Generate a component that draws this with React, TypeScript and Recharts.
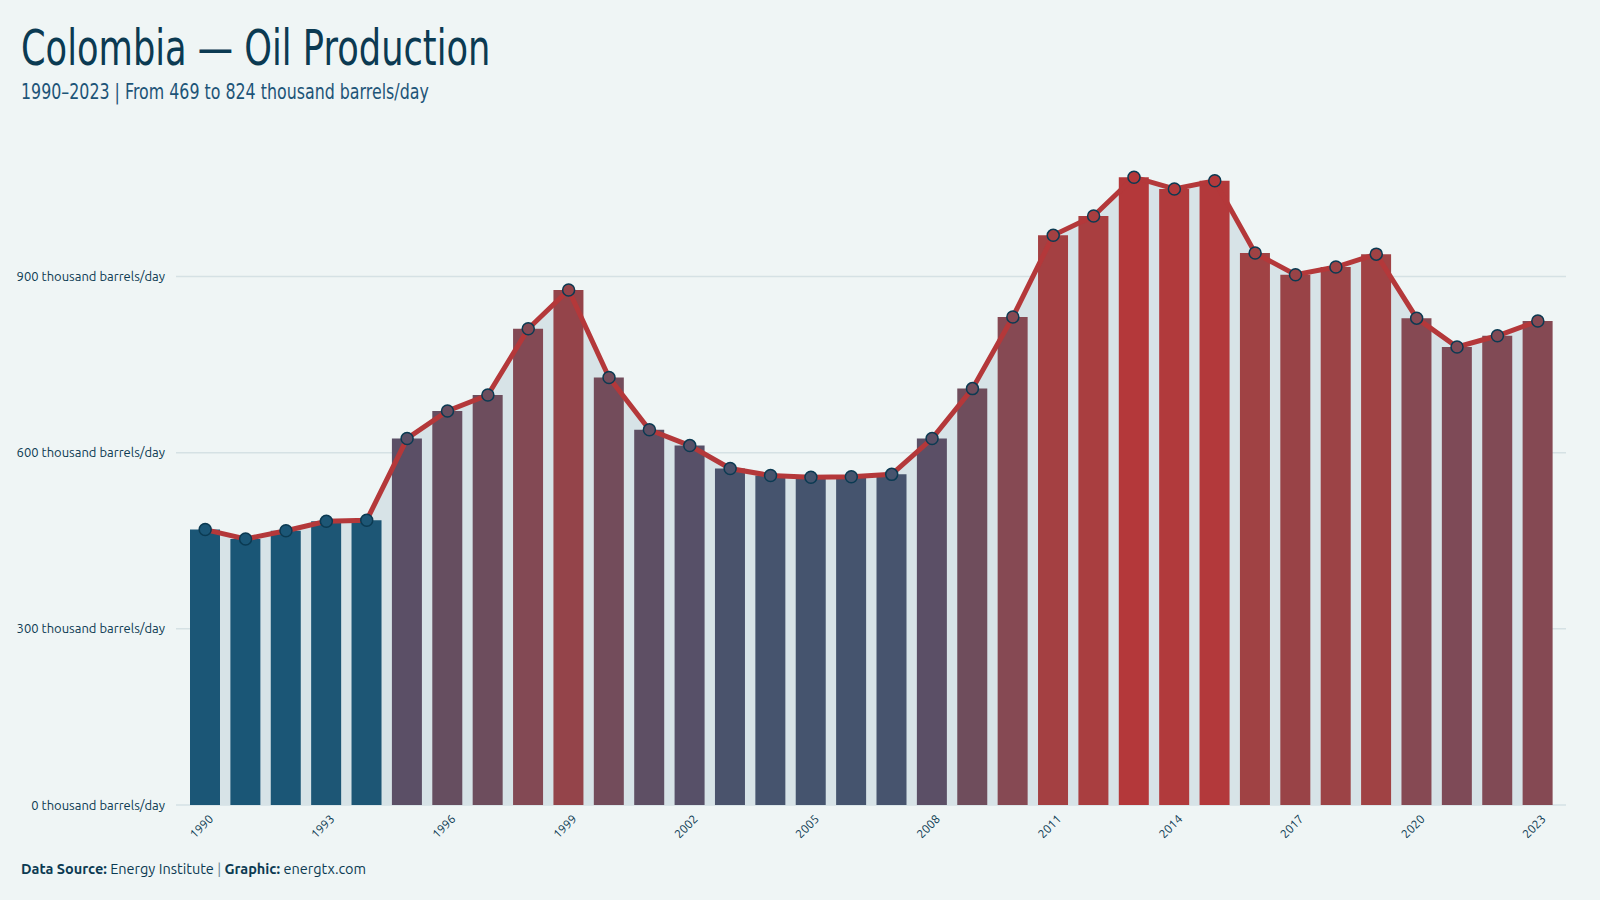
import React from 'react';
import {
  ComposedChart,
  Bar,
  Line,
  Area,
  Cell,
  XAxis,
  YAxis,
  CartesianGrid,
} from 'recharts';

// thousand barrels/day
const years = [
  '1990', '1991', '1992', '1993', '1994', '1995', '1996', '1997', '1998', '1999',
  '2000', '2001', '2002', '2003', '2004', '2005', '2006', '2007', '2008', '2009',
  '2010', '2011', '2012', '2013', '2014', '2015', '2016', '2017', '2018', '2019',
  '2020', '2021', '2022', '2023',
];
const production = [
  469, 453, 467, 483, 485, 624, 671, 698, 811, 877,
  728, 639, 612, 573, 561, 558, 559, 563, 624, 709,
  831, 970, 1003, 1069, 1049, 1063, 940, 903, 916, 938,
  829, 780, 799, 824,
];
const yTicks = [0, 300, 600, 900];

const data = years.map((year, i) => ({ year, value: production[i] }));

const NAVY = '#0b3a52';
const RED = '#b4383a';
const TICK_FONT = "Ubuntu, 'Noto Sans', 'Open Sans', sans-serif";
const TITLE_FONT = "'DejaVu Sans', sans-serif";

// colour stops (value -> colour), blue for low output, red for high
const colorStops: Array<[number, [number, number, number]]> = [
  [453, [26, 86, 118]],
  [486, [29, 86, 117]],
  [560, [70, 84, 110]],
  [625, [91, 79, 102]],
  [700, [109, 77, 93]],
  [790, [128, 74, 86]],
  [830, [134, 73, 83]],
  [880, [149, 68, 73]],
  [940, [160, 66, 68]],
  [1000, [168, 62, 64]],
  [1069, [180, 56, 58]],
];

const colorFor = (v: number) => {
  if (v <= colorStops[0][0]) return `rgb(${colorStops[0][1].join(',')})`;
  for (let i = 1; i < colorStops.length; i++) {
    const [v1, c1] = colorStops[i];
    const [v0, c0] = colorStops[i - 1];
    if (v <= v1) {
      const t = (v - v0) / (v1 - v0);
      const c = c0.map((x, k) => Math.round(x + (c1[k] - x) * t));
      return `rgb(${c.join(',')})`;
    }
  }
  return `rgb(${colorStops[colorStops.length - 1][1].join(',')})`;
};

const XTick = (props: any) => {
  const { x, y, payload } = props;
  return (
    <g transform={`translate(${x + 6},${y + 4})`}>
      <text
        transform="rotate(-45)"
        textAnchor="end"
        fontSize={12}
        fill={NAVY}
        fontFamily={TICK_FONT}
        dy={4}
      >
        {payload.value}
      </text>
    </g>
  );
};

const Dot = (props: any) => {
  const { cx, cy, payload } = props;
  if (cx == null || cy == null) return null;
  return (
    <circle
      key={`dot-${payload.year}`}
      cx={cx}
      cy={cy}
      r={6}
      fill={colorFor(payload.value)}
      stroke={NAVY}
      strokeWidth={1.5}
    />
  );
};

const App: React.FC = () => {
  return (
    <div
      style={{
        position: 'absolute',
        top: 0,
        left: 0,
        width: 1600,
        height: 900,
        background: '#eff5f5',
        overflow: 'hidden',
      }}
    >
      <div
        style={{
          position: 'absolute',
          left: 21,
          top: 18,
          fontFamily: TITLE_FONT,
          fontSize: 50,
          color: NAVY,
          whiteSpace: 'nowrap',
          lineHeight: 1.2,
          transform: 'scaleX(0.705)',
          transformOrigin: 'left top',
        }}
      >
        Colombia — Oil Production
      </div>
      <div
        style={{
          position: 'absolute',
          left: 21,
          top: 79,
          fontFamily: TITLE_FONT,
          fontSize: 22,
          color: '#1d5478',
          whiteSpace: 'nowrap',
          lineHeight: 1.2,
          transform: 'scaleX(0.72)',
          transformOrigin: 'left top',
        }}
      >
        1990–2023 | From 469 to 824 thousand barrels/day
      </div>

      <div style={{ position: 'absolute', top: 0, left: 0 }}>
        <ComposedChart
          width={1600}
          height={900}
          data={data}
          margin={{ top: 159, right: 34, bottom: 0, left: 0 }}
        >
          <CartesianGrid
            vertical={false}
            horizontalValues={yTicks}
            stroke="#d5e1e4"
            strokeWidth={1.5}
          />
          <XAxis
            dataKey="year"
            interval={2}
            axisLine={false}
            tickLine={false}
            height={95}
            padding={{ left: 9, right: 8 }}
            tick={<XTick />}
          />
          <YAxis
            width={176}
            domain={[0, 1100]}
            ticks={yTicks}
            axisLine={false}
            tickLine={false}
            tick={{ fontSize: 13, fill: NAVY, fontFamily: TICK_FONT, dx: -3 }}
            tickFormatter={(v: number) => `${v} thousand barrels/day`}
          />
          <Area
            type="linear"
            dataKey="value"
            stroke="none"
            fill="#d7e3e7"
            fillOpacity={1}
            isAnimationActive={false}
          />
          <Bar dataKey="value" barSize={30} isAnimationActive={false}>
            {data.map((d) => (
              <Cell key={d.year} fill={colorFor(d.value)} />
            ))}
          </Bar>
          <Line
            type="linear"
            dataKey="value"
            stroke={RED}
            strokeWidth={5}
            dot={<Dot />}
            activeDot={false}
            isAnimationActive={false}
          />
        </ComposedChart>
      </div>

      <div
        style={{
          position: 'absolute',
          left: 21,
          top: 860,
          fontFamily: TICK_FONT,
          fontSize: 14.5,
          color: NAVY,
          whiteSpace: 'nowrap',
        }}
      >
        <b>Data Source:</b> Energy Institute <span style={{ color: '#6b8797' }}>|</span>{' '}
        <b>Graphic:</b> energtx.com
      </div>
    </div>
  );
};

export default App;
